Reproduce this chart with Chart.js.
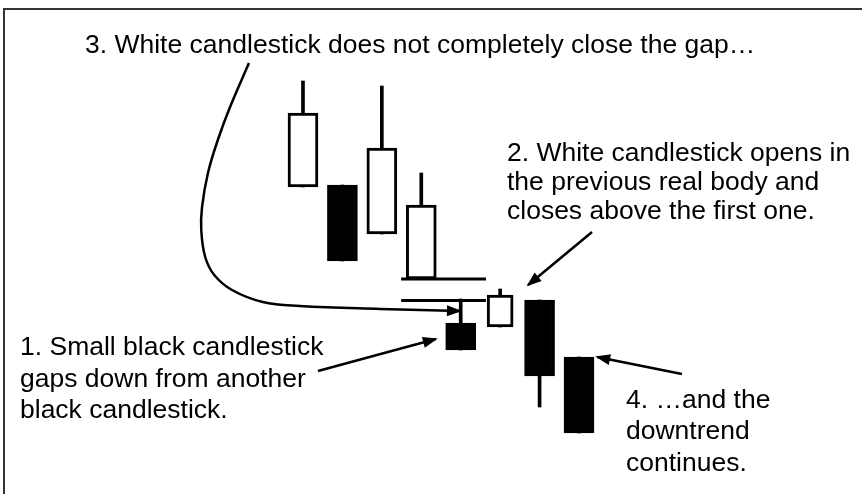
<!DOCTYPE html>
<html><head><meta charset="utf-8">
<script src="https://cdn.jsdelivr.net/npm/chart.js@4.4.1/dist/chart.umd.min.js"></script>
<style>html,body{margin:0;padding:0;background:#fff;overflow:hidden}canvas{display:block}</style>
</head><body><canvas id="c" width="862" height="494"></canvas>
<script>
// ---- data (candles, arbitrary price units) ----
const candles = [1, 2, 3, 4, 5, 6, 7, 8];
const opens   = [61.4, 61.8, 52.0, 43.0, 34.2, 33.4, 38.8, 27.4];
const highs   = [82.6, 61.8, 81.6, 64.2, 39.0, 41.0, 38.8, 27.4];
const lows    = [61.4, 46.6, 52.0, 43.0, 28.8, 33.4, 17.4, 12.2];
const closes  = [76.2, 46.6, 69.2, 57.8, 28.8, 39.8, 23.6, 12.2];
const narrowCandles = [6];

// gap reference levels (price) and their span (candle units)
const gapLevels = [43.0, 38.7];
const gapSpan   = [3.49, 5.64];

// annotation texts
const note1 = ["1. Small black candlestick", "gaps down from another", "black candlestick."];
const note2 = ["2. White candlestick opens in", "the previous real body and", "closes above the first one."];
const note3 = ["3. White candlestick does not completely close the gap…"];
const note4 = ["4. …and the", "downtrend", "continues."];

// arrow paths in (candle units, price)
const arrow1 = [[1.38, 24.6], [4.37, 31.0]];
const arrow2 = [[8.33, 52.4], [6.71, 41.8]];
const arrow3 = [[-0.37, 86.2], [-0.85, 77.4], [-1.16, 70.8], [-1.41, 64.2], [-1.56, 57.4],
                [-1.58, 52.8], [-1.48, 47.4], [-1.25, 43.8], [-0.80, 40.8], [-0.02, 38.4],
                [0.92, 37.6], [2.95, 37.0], [4.98, 36.6]];
const arrow4 = [[10.61, 24.0], [8.46, 27.4]];

// ---- build datasets ----
const wickData = candles.map((c, i) => ({x: c, y: [lows[i], highs[i]]}));
const bodyOf = i => ({x: candles[i], y: [Math.min(opens[i], closes[i]), Math.max(opens[i], closes[i])]});
const colorOf = i => closes[i] >= opens[i] ? '#ffffff' : '#000000';
const idx = candles.map((c, i) => i);
const wideIdx = idx.filter(i => !narrowCandles.includes(candles[i]));
const narrowIdx = idx.filter(i => narrowCandles.includes(candles[i]));
const toPts = a => a.map(p => ({x: p[0], y: p[1]}));

const lineDs = (pts, extra) => Object.assign({
  type: 'line', data: toPts(pts), borderColor: '#000', borderWidth: 2.5,
  pointRadius: 0, fill: false, tension: 0, order: -1
}, extra || {});

const bodyDs = (list, thick) => ({
  type: 'bar', label: 'body', data: list.map(bodyOf), backgroundColor: list.map(colorOf),
  borderColor: '#000', borderWidth: 3, borderSkipped: false, barThickness: thick, grouped: false, order: 1
});

const datasets = [
  {type: 'bar', label: 'wick', data: wickData, backgroundColor: '#000', barThickness: 3, grouped: false, order: 2},
  bodyDs(wideIdx, 30),
  bodyDs(narrowIdx, 26),
];
gapLevels.forEach(l => datasets.push(lineDs([[gapSpan[0], l], [gapSpan[1], l]], {borderWidth: 3})));
datasets.push(lineDs(arrow1, {arrow: true}));
datasets.push(lineDs(arrow2, {arrow: true}));
datasets.push(lineDs(arrow3, {arrow: true, tension: 0.4}));
datasets.push(lineDs(arrow4, {arrow: true}));

const FONT = '25px "Liberation Sans", Arial, Helvetica, sans-serif';
const SX = 1.06;
const textBlocks = [
  {lines: note3, x: 85, y: 53, lh: 31},
  {lines: note2, x: 507, y: 161, lh: 29},
  {lines: note1, x: 20, y: 355, lh: 31.5},
  {lines: note4, x: 626, y: 407.5, lh: 31.7},
];

const annot = {
  id: 'annot',
  beforeDraw(chart) {
    const ctx = chart.ctx;
    ctx.save();
    ctx.fillStyle = '#fff'; ctx.fillRect(0, 0, 862, 494);
    ctx.strokeStyle = '#333'; ctx.lineWidth = 2;
    ctx.beginPath(); ctx.moveTo(4, 500); ctx.lineTo(4, 9); ctx.lineTo(870, 9); ctx.stroke();
    ctx.restore();
  },
  afterDatasetsDraw(chart) {
    const ctx = chart.ctx;
    chart.data.datasets.forEach((ds, i) => {
      if (!ds.arrow) return;
      const pts = chart.getDatasetMeta(i).data; const n = pts.length;
      const p = pts[n - 1], q = pts[n - 2];
      const a = Math.atan2(p.y - q.y, p.x - q.x);
      ctx.save(); ctx.translate(p.x, p.y); ctx.rotate(a);
      ctx.beginPath(); ctx.moveTo(2, 0); ctx.lineTo(-13, -5.5); ctx.lineTo(-13, 5.5); ctx.closePath();
      ctx.fillStyle = '#000'; ctx.fill(); ctx.restore();
    });
    ctx.save();
    ctx.fillStyle = '#000'; ctx.font = FONT; ctx.textBaseline = 'alphabetic'; ctx.textAlign = 'left';
    textBlocks.forEach(b => b.lines.forEach((t, k) => {
      ctx.save(); ctx.translate(b.x, b.y + k * b.lh); ctx.scale(SX, 1); ctx.fillText(t, 0, 0); ctx.restore();
    }));
    ctx.restore();
  }
};

new Chart(document.getElementById('c'), {
  type: 'bar',
  data: {datasets},
  options: {
    responsive: false, animation: false, events: [],
    layout: {padding: 0},
    plugins: {legend: {display: false}, tooltip: {enabled: false}, title: {display: false}},
    scales: {
      x: {type: 'linear', min: -6.684, max: 15.177, offset: false, display: false},
      y: {type: 'linear', min: 0, max: 98.8, display: false}
    }
  },
  plugins: [annot]
});
</script>
</body></html>
